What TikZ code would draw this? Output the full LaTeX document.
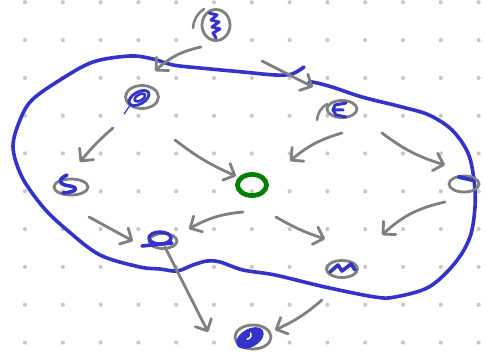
\documentclass[tikz,border=0pt]{standalone}
\usetikzlibrary{shapes.geometric,arrows.meta}
\definecolor{pen}{RGB}{128,128,128}
\definecolor{ink}{RGB}{51,51,204}
\definecolor{leaf}{RGB}{0,128,0}
\definecolor{dotc}{RGB}{200,200,200}
\tikzset{
  bubble/.style={ellipse, draw=pen, line width=2.8pt, inner sep=0pt},
  hub/.style={ellipse, draw=leaf, line width=4.8pt, inner sep=0pt},
  scrib/.style={draw=ink, line width=3pt, line cap=round, line join=round},
  link/.style={draw=pen, line width=2.8pt, line cap=round, line join=round,
    -{Straight Barb[length=9pt,width=18pt,round]}},
  blob/.style={draw=ink, line width=3.6pt, line cap=round, line join=round},
}
\begin{document}
\begin{tikzpicture}[x=1pt,y=-1pt]
\useasboundingbox (0,0) rectangle (485,361);
\fill[white] (0,0) rectangle (485,361);
% dot grid
\foreach \i in {0,...,12} \foreach \j in {0,...,9}
  \fill[dotc] (25+37.8*\i, 2.3+37.8*\j) circle (2.1pt);

% blob outline
\draw[blob] plot[smooth, tension=0.55] coordinates {
 (304,67) (292,74) (275,75) (243,72) (200,68) (173,65) (153,59) (130,56)
 (93,62) (60,80) (32,100) (20,120) (13,147) (22,177) (43,207) (67,230)
 (100,255) (140,267) (160,269) (177,271) (193,265) (207,261) (220,262)
 (243,270) (275,275) (325,287) (375,297) (395,297) (429,287) (455,263)
 (470,237) (475,207) (474,180) (468,153) (452,130) (429,115) (402,107)
 (362,97) (332,87) (312,82) (309,84)};

% nodes
\node[bubble, minimum width=28pt, minimum height=31pt] (n1) at (216,25) {};
\node[bubble, minimum width=33pt, minimum height=23pt] (n2) at (142,97) {};
\node[bubble, minimum width=30pt, minimum height=17pt] (n3) at (342,109) {};
\node[bubble, minimum width=34pt, minimum height=16pt] (n4) at (71,187) {};
\node[bubble, minimum width=28pt, minimum height=15pt] (n5) at (163,241) {};
\node[bubble, minimum width=31pt, minimum height=17pt] (n6) at (342,269) {};
\node[bubble, minimum width=30pt, minimum height=16pt] (n7) at (464,184) {};
\node[bubble, minimum width=36pt, minimum height=24pt] (n8) at (253,337) {};
\node[hub, minimum width=29pt, minimum height=21pt] (g) at (252,185) {};

% overshoot strokes
\draw[pen, line width=2.5pt, line cap=round] (193,28) to[bend left=25] (204,9);
\draw[pen, line width=2.5pt, line cap=round] (317,120) to[bend left=25] (327,104);

% scribbles
\draw[scrib] (209,13) -- (217,15) -- (211,20) -- (219,22) -- (212,27) -- (220,29) -- (213,33) -- (216,38);
\begin{scope}[shift={(139,98)}, rotate=30]
  \draw[scrib, line width=2.8pt] (0,0) ellipse [x radius=11, y radius=6];
  \draw[scrib, line width=2.6pt] (1,0) ellipse [x radius=6, y radius=3];
\end{scope}
\draw[ink, line width=1.2pt, line cap=round] (131,104) -- (124,114);
\draw[scrib] (346,103) -- (335,105) -- (333,110) -- (343,110);
\draw[scrib] (333,110) -- (336,115) -- (346,117);
\draw[scrib, line width=3.6pt] (67,175) .. controls (56,180) and (60,185) .. (70,186) .. controls (80,188) and (76,192) .. (63,193);
\draw[scrib, line width=3.4pt] (160,238) ellipse [x radius=11, y radius=6];
\draw[scrib, line width=3.6pt] (142,246) -- (172,243);
\draw[scrib, line width=3.6pt] (330,272) -- (338,265) -- (342,271) -- (351,264) -- (355,270);
\draw[scrib, line width=4pt] (459,177) -- (472,180);
\begin{scope}[shift={(250,338)}, rotate=30]
  \fill[ink] (0,0) ellipse [x radius=15, y radius=9];
  \draw[white, line width=1.5pt, line cap=round] (3,-4) arc[start angle=0, end angle=120, radius=4];
\end{scope}

% connector end points
\coordinate (a1s) at (201,47);  \coordinate (a1e) at (155,71);
\coordinate (a2s) at (262,61);  \coordinate (a2e) at (313,87);
\coordinate (a3s) at (113,128); \coordinate (a3e) at (80,162);
\coordinate (a4s) at (175,140); \coordinate (a4e) at (236,176);
\coordinate (a5s) at (342,133); \coordinate (a5e) at (290,161);
\coordinate (a6s) at (382,133); \coordinate (a6e) at (445,165);
\coordinate (a7s) at (89,217);  \coordinate (a7e) at (133,241);
\coordinate (a8s) at (243,212); \coordinate (a8e) at (189,229);
\coordinate (a9s) at (276,217); \coordinate (a9e) at (325,239);
\coordinate (a10s) at (445,202); \coordinate (a10e) at (382,235);
\coordinate (a11s) at (165,247); \coordinate (a11e) at (208,332);
\coordinate (a12s) at (322,300); \coordinate (a12e) at (275,330);

% connectors
\draw[link] (a1s) to[bend right=15] (a1e);
\draw[link] (a2s) -- (a2e);
\draw[link] (a3s) to[bend right=5] (a3e);
\draw[link] (a4s) to[bend right=7] (a4e);
\draw[link] (a5s) to[bend right=12] (a5e);
\draw[link] (a6s) to[bend right=10] (a6e);
\draw[link] (a7s) -- (a7e);
\draw[link] (a8s) to[bend right=12] (a8e);
\draw[link] (a9s) to[bend right=6] (a9e);
\draw[link] (a10s) to[bend right=15] (a10e);
\draw[link] (a11s) -- (a11e);
\draw[link] (a12s) to[bend left=8] (a12e);
\end{tikzpicture}
\end{document}
